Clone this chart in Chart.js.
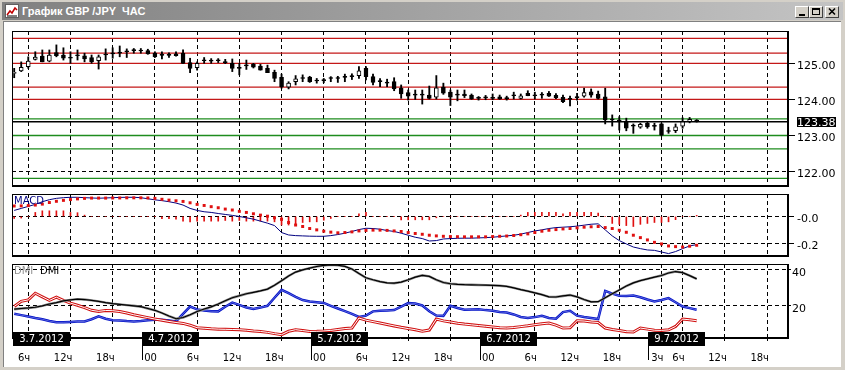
<!DOCTYPE html>
<html lang="ru">
<head>
<meta charset="utf-8">
<title>График GBP/JPY ЧАС</title>
<script src="https://cdn.jsdelivr.net/npm/chart.js@4.4.1/dist/chart.umd.min.js"></script>
<style>
  body { margin:0; width:845px; height:370px; overflow:hidden; background:#d4d0c8; position:relative; }
  .titlebar { position:absolute; left:2px; top:2px; width:841px; height:18px; background:linear-gradient(to right,#808080,#c4c4c4); }
  .titlebar .caption { position:absolute; left:20px; top:2px; color:#fff; font:bold 11px "Liberation Sans", Arial, sans-serif; line-height:14px; white-space:pre; }
  .titlebar svg.icon { position:absolute; left:2px; top:1px; }
  .btn { position:absolute; top:4px; width:14px; height:12px; background:#d4d0c8; box-sizing:border-box;
         border-top:1px solid #fff; border-left:1px solid #fff; border-right:1px solid #404040; border-bottom:1px solid #404040; }
  .btn svg { position:absolute; left:0; top:0; }
  .client { position:absolute; left:3px; top:21px; width:838px; height:346px; background:#fff; box-sizing:border-box;
            border-top:1px solid #808080; border-left:1px solid #808080; }
  canvas { position:absolute; left:0; }
</style>
</head>
<body>
<div class="titlebar">
  <svg class="icon" width="16" height="16" viewBox="0 0 16 16">
    <rect x="1.5" y="1.5" width="13" height="13" fill="#fff" stroke="#606060"/>
    <polyline points="3,12 6,8 8,10 11,5 13,7" fill="none" stroke="#c00000" stroke-width="1.5"/>
    <polyline points="3,13 13,13" stroke="#000"/>
  </svg>
  <div class="caption">График GBP /JPY  ЧАС</div>
  <div class="btn" style="left:793px"><svg width="12" height="10"><rect x="3" y="7" width="6" height="2" fill="#000"/></svg></div>
  <div class="btn" style="left:807px"><svg width="12" height="10"><rect x="2.5" y="1.5" width="7" height="6" fill="none" stroke="#000"/><rect x="2" y="1" width="8" height="2" fill="#000"/></svg></div>
  <div class="btn" style="left:823px"><svg width="12" height="10"><path d="M3 1.5 L9 7.5 M9 1.5 L3 7.5" stroke="#000" stroke-width="1.6"/></svg></div>
</div>
<div class="client"></div>
<canvas id="main" width="845" height="165" style="top:25px"></canvas>
<canvas id="macd" width="845" height="70" style="top:190px"></canvas>
<canvas id="dmi" width="845" height="108" style="top:262px"></canvas>
<script>
// hourly bars, one slot per hour (weekend skipped)
const opens = [124.72,124.79,124.91,125.11,125.20,125.06,125.30,125.23,125.15,125.21,
  125.21,125.16,125.07,125.23,125.26,125.28,125.32,125.35,125.34,125.35,
  125.28,125.22,125.23,125.26,125.28,125.02,124.88,125.07,125.06,125.07,
  125.05,125.00,124.86,124.93,124.97,124.92,124.86,124.75,124.61,124.34,
  124.49,124.58,124.62,124.51,124.52,124.58,124.58,124.61,124.63,124.66,
  124.86,124.63,124.49,124.45,124.49,124.31,124.19,124.12,124.12,124.12,
  124.06,124.34,124.20,124.12,124.15,124.12,124.03,124.04,124.06,124.07,
  124.02,124.10,124.03,124.17,124.10,124.12,124.17,124.11,124.06,124.00,
  124.05,124.09,124.21,124.15,124.07,123.43,123.43,123.38,123.26,123.23,
  123.34,123.25,123.32,123.11,123.13,123.26,123.38,123.43];
const highs = [124.86,125.04,125.18,125.32,125.37,125.37,125.51,125.43,125.32,125.37,
  125.28,125.23,125.23,125.40,125.43,125.48,125.40,125.41,125.41,125.39,
  125.32,125.32,125.29,125.32,125.37,125.14,125.04,125.16,125.13,125.13,
  125.11,125.12,125.00,125.09,125.00,124.97,124.95,124.81,124.70,124.49,
  124.66,124.68,124.64,124.58,124.58,124.63,124.64,124.70,124.71,124.91,
  124.91,124.70,124.58,124.56,124.60,124.40,124.26,124.26,124.26,124.37,
  124.66,124.45,124.26,124.26,124.26,124.15,124.08,124.11,124.15,124.12,
  124.09,124.20,124.15,124.24,124.20,124.19,124.22,124.16,124.12,124.09,
  124.17,124.31,124.29,124.23,124.31,123.57,123.52,123.48,123.32,123.34,
  123.38,123.34,123.34,123.23,123.32,123.49,123.50,123.44];
const lows = [124.60,124.77,124.86,125.09,125.04,125.04,125.18,125.09,125.00,125.09,
  125.04,125.00,124.84,125.09,125.14,125.18,125.16,125.28,125.28,125.25,
  125.16,125.12,125.16,125.20,125.00,124.74,124.81,125.00,125.00,125.02,
  124.99,124.77,124.68,124.83,124.87,124.81,124.74,124.49,124.31,124.29,
  124.40,124.49,124.47,124.45,124.46,124.49,124.47,124.49,124.55,124.58,
  124.54,124.40,124.35,124.35,124.24,124.03,123.98,124.00,123.87,124.01,
  124.01,124.14,123.83,123.96,124.05,124.00,123.98,123.99,123.99,124.00,
  123.98,124.01,124.01,124.10,124.01,124.03,124.08,124.02,123.91,123.82,
  123.98,124.06,124.06,124.01,123.32,123.26,123.15,123.13,123.06,123.20,
  123.20,123.15,122.99,123.06,123.08,123.20,123.35,123.37];
const closes = [124.73,124.89,125.06,125.17,125.04,125.23,125.21,125.14,125.14,125.21,
  125.12,125.04,125.18,125.23,125.26,125.28,125.32,125.35,125.34,125.26,
  125.18,125.22,125.22,125.21,125.00,124.86,125.00,125.07,125.06,125.07,
  125.02,124.86,124.86,124.93,124.89,124.81,124.74,124.58,124.35,124.45,
  124.57,124.58,124.49,124.51,124.52,124.58,124.58,124.61,124.63,124.79,
  124.63,124.47,124.49,124.45,124.29,124.15,124.09,124.12,124.12,124.03,
  124.32,124.17,124.06,124.12,124.10,124.01,124.03,124.04,124.03,124.01,
  124.02,124.10,124.10,124.10,124.10,124.12,124.09,124.05,123.94,124.00,
  124.05,124.19,124.12,124.03,123.43,123.43,123.38,123.20,123.26,123.31,
  123.24,123.25,123.01,123.11,123.24,123.38,123.45,123.38];

// horizontal levels drawn on the price panel
const redLevels = [125.69, 125.28, 125.00, 124.34, 124.00];
const greenLevels = [123.46, 123.00, 122.63, 121.81];
const priceTicks = [125, 124, 123, 122];

const macdLine = [0.045,0.06,0.075,0.09,0.11,0.125,0.135,0.14,0.143,0.143,
  0.14,0.138,0.136,0.138,0.14,0.142,0.143,0.143,0.14,0.132,
  0.124,0.118,0.11,0.10,0.085,0.06,0.045,0.035,0.03,0.022,
  0.015,0.008,0.0,-0.01,-0.02,-0.035,-0.05,-0.068,-0.12,-0.138,
  -0.143,-0.145,-0.147,-0.148,-0.148,-0.143,-0.135,-0.125,-0.112,-0.098,
  -0.088,-0.09,-0.095,-0.105,-0.112,-0.125,-0.14,-0.155,-0.165,-0.183,
  -0.18,-0.168,-0.165,-0.163,-0.162,-0.162,-0.16,-0.158,-0.155,-0.15,
  -0.145,-0.14,-0.132,-0.12,-0.108,-0.1,-0.09,-0.083,-0.08,-0.077,
  -0.072,-0.065,-0.058,-0.055,-0.1,-0.145,-0.18,-0.205,-0.228,-0.24,
  -0.25,-0.253,-0.265,-0.277,-0.262,-0.24,-0.22,-0.21];
const macdSignal = [0.078,0.079,0.081,0.085,0.092,0.104,0.113,0.12,0.126,0.131,
  0.135,0.137,0.137,0.137,0.138,0.138,0.139,0.139,0.139,0.138,
  0.135,0.128,0.122,0.117,0.112,0.102,0.09,0.082,0.073,0.065,
  0.055,0.048,0.038,0.03,0.02,0.01,0.002,-0.01,-0.022,-0.045,
  -0.064,-0.075,-0.09,-0.1,-0.11,-0.117,-0.122,-0.12,-0.115,-0.108,
  -0.104,-0.102,-0.102,-0.104,-0.108,-0.112,-0.12,-0.127,-0.133,-0.14,
  -0.145,-0.148,-0.15,-0.151,-0.152,-0.152,-0.152,-0.152,-0.15,-0.148,
  -0.146,-0.142,-0.136,-0.13,-0.12,-0.11,-0.103,-0.098,-0.093,-0.09,
  -0.085,-0.08,-0.077,-0.075,-0.083,-0.09,-0.103,-0.118,-0.14,-0.158,
  -0.175,-0.193,-0.205,-0.22,-0.225,-0.228,-0.222,-0.215];
const macdHist = [-0.015,-0.012,0,0.03,0.042,0.042,0.042,0.042,0.03,0.028,
  0.01,0,0,0,0,0,0,0,0,0,
  0,-0.016,-0.016,-0.02,-0.035,-0.04,-0.035,-0.035,-0.035,-0.035,
  -0.03,-0.035,-0.03,-0.035,-0.035,-0.035,-0.035,-0.04,-0.064,-0.064,
  -0.064,-0.045,-0.04,-0.04,-0.028,-0.015,0,0,0,0.02,
  0.03,0,0,0,0,-0.025,-0.025,-0.025,-0.025,-0.025,
  -0.01,0,0,0,0,0,0,0,0,0,
  0,0,0.01,0.03,0.03,0.03,0.03,0.03,0.02,0.03,
  0.03,0.03,0.03,0.025,0,-0.052,-0.059,-0.068,-0.075,-0.059,
  -0.052,-0.045,-0.045,-0.04,-0.024,0,0,0.008];
const macdTickVals = [-0.2, 0];
const macdTickLabels = ['-0.2', '-0.0'];

const adx = [18.1,18.5,18.8,19.2,20,21,21.8,22.7,23.3,23.7,
  23.5,23,22.5,21.8,21.2,20.8,20.4,20,19.5,18.5,
  17.5,16,14.3,12.8,13.5,15,16.8,18.2,19.4,21,
  22.8,24.5,25.6,26.7,27.5,28.3,29.3,31.5,34,36.6,
  38.8,40,41,41.9,42.5,42.8,42.6,42,40.5,38,
  35.6,34.5,33.5,32.8,32.6,33.2,34.5,36,37,36.4,
  34.5,33,32.3,32,31.8,31.7,31.6,31.5,31.4,31.2,
  30.8,30,29,28.2,27.2,26.2,25,24.9,25.5,26,
  25,23.5,22.2,22.3,24.5,26.7,28.8,31,32.8,34,
  35,36,36.9,38.3,39.1,38.5,36.8,35];
const plusDI = [15.6,14.8,14,13.2,12.5,11.5,10.8,10.8,11,11.2,
  11.3,12.5,14.1,12.8,12,11.8,11.5,11.3,11.5,12,
  12.2,12.2,11.8,11.3,15.5,19.6,18,17.4,17,16.9,
  19.5,21.8,20.5,19,18.3,19,20,24.5,28.9,27,
  25,23.2,22.4,22,21.6,20,18.5,17,15.5,13.8,
  14.5,16.9,17.2,17.4,17.6,19.5,21.5,21.3,20.2,17,
  14.6,14.4,20,18.8,17.8,18,18.1,17.6,17.3,16.6,
  16.3,15.2,13.8,13.2,13.7,14.4,13.2,12.8,16.5,17.2,
  14.5,13.8,13.2,12.6,28.3,26.8,25.6,25.5,25.7,24.8,
  23.5,22.4,23.2,24.3,22,19.6,18.7,17.8];
const minusDI = [19.6,22.5,23.3,27,25,23,24.8,23,21.5,20.3,
  19,17.5,16.9,17.4,17.3,16.8,16,15,14.2,13.4,
  12.6,12,11.3,10.7,10.2,9.2,7.8,7.5,7.2,7,
  6.9,6.8,6.7,6.4,6,5.7,5.2,4.5,3.9,5.8,
  6.7,6.2,5.7,5.8,6,6.3,6.8,7.3,7.6,13.2,
  12,11.2,10.4,9.6,8.8,8,7.3,6.7,5.8,6.5,
  12.6,11.6,11,10.3,9.8,9.4,9,8.6,8.2,7.8,
  7.6,7.9,8.4,8.9,9.5,10,10.4,9.2,7.6,7.8,
  11.7,11.5,11,10.7,7.6,6.8,6.2,5.6,5.4,7.6,
  7,6.4,6.3,6.6,8.5,12.6,12.2,11.7];
const dmiTickVals = [20, 40];

// time axis: slot of each grid line and its label
const tickSlots = [2, 8, 14, 20, 26, 32, 38, 44, 50, 56, 62, 68, 74, 80, 86, 92, 95, 101, 107];
const tickLabels = ['6ч','12ч','18ч','00','6ч','12ч','18ч','00','6ч','12ч','18ч','00','6ч','12ч','18ч','3ч','6ч','12ч','18ч'];
const dateSlots = [2, 20, 44, 68, 92];
const dateLabels = ['3.7.2012', '4.7.2012', '5.7.2012', '6.7.2012', '9.7.2012'];

const X_MIN = -0.31, X_MAX = 109.98;

Chart.defaults.font.family = '"DejaVu Sans", sans-serif';
Chart.defaults.font.size = 11;
Chart.defaults.color = '#000';
Chart.defaults.animation = false;

const slots = opens.map((_, i) => i);
const pts = arr => arr.map((v, i) => ({ x: i, y: v }));

// black frame round every panel
const frame = {
  id: 'frame',
  afterDraw(chart) {
    const { ctx, chartArea: a } = chart;
    ctx.save();
    ctx.strokeStyle = '#000';
    ctx.lineWidth = 1;
    ctx.strokeRect(Math.round(a.left) + 0.5, Math.round(a.top) + 0.5, Math.round(a.right - a.left) - 1, Math.round(a.bottom - a.top) - 1);
    ctx.restore();
  }
};

function xAxis(showLabels) {
  return {
    type: 'linear', min: X_MIN, max: X_MAX, offset: false,
    grid: { color: '#000', offset: false, drawTicks: showLabels, tickLength: 3, tickColor: '#000' },
    border: { display: true, color: '#000', dash: [4, 3] },
    ticks: { display: showLabels, align: 'end', autoSkip: false, maxRotation: 0, padding: 11, labelOffset: 2,
             font: { size: 10 }, callback: (v, i) => tickLabels[i] },
    afterBuildTicks: s => { s.ticks = tickSlots.map(v => ({ value: v })); },
    afterFit: s => { s.height = showLabels ? 32 : 0; s.paddingLeft = 0; s.paddingRight = 0; }
  };
}

function yAxis(min, max, vals, label, tickLen, pad) {
  return {
    position: 'right', min: min, max: max,
    grid: { color: '#000', tickLength: tickLen, tickColor: '#000' },
    border: { display: true, color: '#000', dash: [4, 3] },
    ticks: { padding: pad, labelOffset: 3, callback: label },
    afterBuildTicks: s => { s.ticks = vals.map(v => ({ value: v })); },
    afterFit: s => { s.width = 57; s.paddingTop = 0; s.paddingBottom = 0; }
  };
}

// last price tag on the right axis
const priceTag = {
  id: 'priceTag',
  afterDraw(chart) {
    const { ctx, chartArea: a, scales: { y } } = chart;
    const last = closes[closes.length - 1];
    const py = y.getPixelForValue(last);
    ctx.save();
    ctx.fillStyle = '#000';
    ctx.fillRect(a.right + 9, Math.round(py) - 5, 39, 10);
    ctx.fillStyle = '#fff';
    ctx.font = '11px "DejaVu Sans"';
    ctx.textBaseline = 'middle';
    ctx.fillText(last.toFixed(2), a.right + 9, py + 1);
    ctx.restore();
  }
};

function panelLabel(parts) {
  return {
    id: 'panelLabel',
    afterDraw(chart) {
      const { ctx, chartArea: a } = chart;
      ctx.save();
      ctx.font = '10px "DejaVu Sans"';
      ctx.textBaseline = 'middle';
      parts.forEach(p => {
        ctx.fillStyle = p.color;
        ctx.fillText(p.text, a.left + p.dx, a.top + 7.5);
      });
      ctx.restore();
    }
  };
}

const dateBoxes = {
  id: 'dateBoxes',
  afterDraw(chart) {
    const { ctx, chartArea: a, scales: { x } } = chart;
    ctx.save();
    ctx.font = '10px "DejaVu Sans"';
    ctx.textAlign = 'center';
    ctx.textBaseline = 'middle';
    dateSlots.forEach((s, i) => {
      let left = Math.round(x.getPixelForValue(s)) - 13;
      if (i === 0) left = Math.round(a.left) + 1;
      ctx.fillStyle = '#000';
      ctx.fillRect(left, a.bottom - 6, 57, 14);
      if (i > 0) ctx.fillRect(left, a.bottom + 8, 1, 14);
      ctx.fillStyle = '#fff';
      ctx.fillText(dateLabels[i], left + 28.5, a.bottom + 1.5);
    });
    ctx.restore();
  }
};

function level(v, color) {
  return { type: 'line', data: [{ x: X_MIN, y: v }, { x: X_MAX, y: v }], borderColor: color,
           borderWidth: 1.3, pointRadius: 0, order: 3 };
}

// price panel
new Chart(document.getElementById('main'), {
  type: 'bar',
  data: {
    datasets: [
      ...redLevels.map(v => level(v, '#c41818')),
      ...greenLevels.map(v => level(v, '#1e8c1e')),
      level(closes[closes.length - 1], '#000'),
      { type: 'bar', data: slots.map(i => ({ x: i, y: [lows[i], highs[i]] })), barThickness: 1.2,
        backgroundColor: '#000', borderWidth: 0, grouped: false, order: 2 },
      { type: 'bar', data: slots.map(i => ({ x: i, y: [opens[i], closes[i]] })), barThickness: 4,
        backgroundColor: slots.map(i => closes[i] > opens[i] ? '#fff' : '#000'),
        borderColor: '#000', borderWidth: 1, borderSkipped: false, minBarLength: 1, grouped: false, order: 1 }
    ]
  },
  options: {
    responsive: false,
    layout: { padding: { left: 12, right: 0, top: 6, bottom: 4 } },
    plugins: { legend: { display: false }, tooltip: { enabled: false } },
    scales: {
      x: xAxis(false),
      y: yAxis(121.60, 125.895, priceTicks, v => v.toFixed(2), 7, 2)
    }
  },
  plugins: [frame, priceTag]
});

// MACD panel
new Chart(document.getElementById('macd'), {
  type: 'bar',
  data: {
    datasets: [
      { type: 'bar', data: pts(macdHist), barThickness: 1, backgroundColor: '#e01010', grouped: false, order: 3 },
      { type: 'line', data: pts(macdLine), borderColor: '#000080', borderWidth: 1, pointRadius: 0, order: 2 },
      { type: 'line', data: pts(macdSignal), showLine: false, pointStyle: 'rect', pointRadius: 2.1,
        pointBackgroundColor: '#e01010', pointBorderWidth: 0, order: 1 }
    ]
  },
  options: {
    responsive: false,
    layout: { padding: { left: 12, right: 0, top: 2, bottom: 2 } },
    plugins: { legend: { display: false }, tooltip: { enabled: false } },
    scales: {
      x: xAxis(false),
      y: yAxis(-0.295, 0.1675, macdTickVals, (v, i) => macdTickLabels[i], 6, 3)
    }
  },
  plugins: [frame, panelLabel([{ text: 'MACD', color: '#000080', dx: 2 }])]
});

// DMI panel: two DMI studies drawn on top of each other
function dmiLine(data, color, width, order) {
  return { type: 'line', data: pts(data), borderColor: color, borderWidth: width, pointRadius: 0, order: order };
}

new Chart(document.getElementById('dmi'), {
  type: 'line',
  data: {
    datasets: [
      dmiLine(adx, '#000', 1.2, 1),
      dmiLine(adx, '#8c8c8c', 2.4, 2),
      dmiLine(minusDI, '#fff', 1, 3),
      dmiLine(minusDI, '#d01010', 3, 4),
      dmiLine(plusDI, 'rgba(255,255,255,0.5)', 0.7, 5),
      dmiLine(plusDI, '#0010c8', 2.5, 6)
    ]
  },
  options: {
    responsive: false,
    layout: { padding: { left: 12, right: 0, top: 2, bottom: 0 } },
    plugins: { legend: { display: false }, tooltip: { enabled: false } },
    scales: {
      x: xAxis(true),
      y: yAxis(2.06, 43.3, dmiTickVals, v => String(v), 3, 1)
    }
  },
  plugins: [frame, dateBoxes, panelLabel([{ text: 'DMI', color: '#909090', dx: 2 }, { text: 'DMI', color: '#000', dx: 28 }])]
});
</script>
</body>
</html>
